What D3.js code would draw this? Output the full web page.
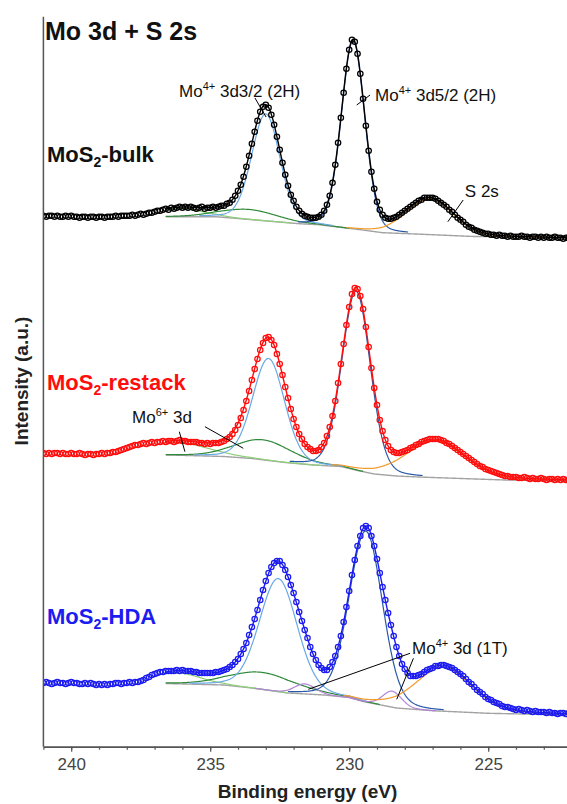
<!DOCTYPE html>
<html>
<head>
<meta charset="utf-8">
<script src="https://cdn.jsdelivr.net/npm/d3@7"></script>
<style>
  html, body { margin: 0; padding: 0; background: #ffffff; }
  svg { display: block; font-family: "Liberation Sans", Arial, Helvetica, sans-serif; }
</style>
</head>
<body>
<svg id="chart" width="567" height="804"></svg>
<script>
// ---- scan settings: binding energy of the first channel and channel step (eV)
const scanStart = 241.0;
const scanStep = 0.1;

// ---- samples, stacked from top to bottom
const sampleNames = ["bulk", "restack", "HDA"];
const sampleColors = ["#000000", "#ff0d0d", "#1c1cf0"];
const stackOffsets = [500, 256.7, 26.7];

// ---- measured intensity (a.u.), one value per channel, 241.0 -> 222.0 eV
const bulkCounts = [
  31,30,31,31,30,31,30,30,31,30,
  31,30,30,29,30,30,29,30,30,29,
  30,30,29,30,30,30,31,30,31,31,
  31,31,32,31,32,33,32,33,34,34,
  35,36,36,37,38,37,39,38,39,40,
  39,40,39,40,39,38,39,40,38,39,
  39,40,39,40,41,41,43,44,47,51,
  56,62,70,80,91,103,115,126,135,140,
  142,139,132,122,110,97,84,72,61,52,
  46,40,36,33,31,30,29,29,29,30,
  32,36,42,51,64,82,104,129,154,178,
  197,207,205,193,173,148,121,96,75,58,
  45,37,32,29,28,28,29,30,32,34,
  36,38,40,42,44,46,47,49,49,49,
  49,48,46,44,42,40,37,35,32,29,
  27,25,22,20,19,17,16,15,14,13,
  13,12,12,11,12,11,11,10,11,10,
  10,10,11,10,10,9,10,10,9,10,
  9,10,9,9,10,9,9,8,9,9,
  9
];
const restackCounts = [
  37,36,37,36,37,37,36,37,36,36,
  37,36,36,37,36,35,36,36,35,36,
  36,37,36,37,37,38,38,39,40,41,
  42,43,44,45,45,46,47,46,47,48,
  47,48,48,49,48,49,49,48,49,50,
  49,49,48,48,48,48,47,47,46,47,
  46,47,47,47,48,49,51,53,56,60,
  65,72,80,89,99,110,121,131,140,147,
  152,153,150,145,136,126,115,103,92,81,
  71,63,56,51,46,43,41,39,39,40,
  43,47,54,63,74,89,107,126,146,165,
  183,196,202,201,194,181,163,143,122,102,
  85,70,59,50,44,40,38,37,37,38,
  39,40,42,43,45,46,48,49,50,51,
  51,51,51,50,49,47,46,44,42,40,
  38,36,34,32,30,28,26,24,23,21,
  20,19,18,17,16,15,14,14,13,13,
  13,12,12,13,12,11,12,11,11,12,
  11,10,11,11,10,11,10,11,10,10,
  10
];
const hdaCounts = [
  37,38,37,36,37,38,37,37,36,37,
  38,37,37,36,36,37,36,37,36,35,
  36,35,36,35,36,36,37,37,36,37,
  37,38,37,38,38,39,40,42,43,45,
  46,47,48,48,49,49,49,49,50,49,
  50,49,49,49,48,48,47,47,47,47,
  47,47,48,48,49,50,51,53,55,58,
  61,66,71,77,85,93,101,110,120,130,
  139,147,153,157,159,159,155,150,143,135,
  127,118,108,99,90,82,73,66,60,55,
  52,50,50,53,58,64,73,84,98,113,
  129,145,160,174,184,192,194,192,184,174,
  161,147,133,120,107,95,84,73,64,56,
  51,47,44,44,44,45,46,48,50,51,
  52,54,54,55,55,54,53,52,50,48,
  46,44,41,38,36,33,30,28,26,23,
  21,20,18,17,16,14,13,13,12,11,
  10,11,10,9,10,9,8,9,8,8,
  8,7,8,7,7,6,7,7,6,7,
  6
];

// ---- fit window (eV)
const fitStart = 236.6;
const fitEnd = 222.0;

// ---- Shirley-type background knots [eV, intensity]
const bulkBackground = [[241,30],[234.8,30],[233.5,27],[231.8,23],[231.1,22],[229.6,17],[228.8,14],[227.6,12.7],[225.6,10.3],[222,8.6]];
const restackBackground = [[236.6,35.1],[234.5,33.5],[233.5,31.5],[232.3,27.5],[231.3,25],[230.3,23.5],[229.7,19.5],[229.1,16],[228.3,14],[227.5,13],[226.5,12],[224.4,10],[222,9.3]];
const hdaBackground = [[236.6,36.5],[234.5,35],[233.5,32],[232.2,27],[230.9,25],[230,22.5],[229.5,18.5],[228.3,12],[227,9.3],[225,6.7],[222,5]];

// ---- fitted components: [name, centre (eV), height, FWHM (eV), Lorentzian fraction]
const bulkPeaks = [
  ["Mo6+ 3d3/2", 236.1, 8, 2.0, 0.15],
  ["Mo6+ 3d5/2", 233.6, 10, 2.4, 0.15],
  ["Mo4+ 3d3/2 (2H)", 233.0, 107, 1.2, 0.15],
  ["Mo4+ 3d5/2 (2H)", 229.86, 188, 0.99, 0.15],
  ["S 2s", 227.1, 36, 2.0, 0.15]
];
const restackPeaks = [
  ["Mo6+ 3d3/2", 236.2, 13, 2.6, 0.15],
  ["Mo6+ 3d5/2", 233.1, 20, 2.4, 0.15],
  ["Mo4+ 3d3/2 (2H)", 232.9, 102, 1.35, 0.15],
  ["Mo4+ 3d5/2 (2H)", 229.75, 179, 1.2, 0.15],
  ["S 2s", 226.9, 37, 2.5, 0.3]
];
const hdaPeaks = [
  ["Mo6+ 3d3/2", 236.2, 11, 2.0, 0.15],
  ["Mo6+ 3d5/2", 233.1, 17, 2.8, 0.15],
  ["Mo4+ 3d3/2 (2H)", 232.55, 113, 1.6, 0.15],
  ["Mo4+ 3d3/2 (1T)", 231.6, 10, 0.9, 0.15],
  ["Mo4+ 3d5/2 (2H)", 229.4, 171, 1.4, 0.15],
  ["Mo4+ 3d5/2 (1T)", 228.45, 16, 0.8, 0.15],
  ["S 2s", 226.6, 44, 2.4, 0.3]
];

// ---- axis ticks
const majorTicks = [240, 235, 230, 225];
const minorTicks = [241,240,239,238,237,236,235,234,233,232,231,230,229,228,227,226,225,224,223,222];

// ---- annotations: leader lines [sample, eV, intensity, eV, intensity]
const leaderLines = [
  [0, 233.39, 148.7, 232.99, 129.7],
  [0, 229.73, 141.7, 229.25, 151.7],
  [0, 226.45, 25.0, 225.90, 46.7],
  [1, 236.11, 58.3, 235.91, 38.3],
  [1, 235.19, 63.3, 233.81, 41.7],
  [2, 227.81, 66.7, 231.47, 30.7],
  [2, 227.69, 61.7, 228.29, 20.7]
];
// label anchors [sample, eV, intensity] and their text runs
const labelAnchors = [
  [0, 236.12, 150.0],
  [0, 229.07, 145.7],
  [0, 225.84, 49.7],
  [1, 237.81, 67.0],
  [2, 227.74, 66.0]
];
const labelTexts = [
  [["Mo"], ["4+", "sup"], [" 3d3/2 (2H)"]],
  [["Mo"], ["4+", "sup"], [" 3d5/2 (2H)"]],
  [["S 2s"]],
  [["Mo"], ["6+", "sup"], [" 3d"]],
  [["Mo"], ["4+", "sup"], [" 3d (1T)"]]
];

// ---------------------------------------------------------------------------
const countsList = [bulkCounts, restackCounts, hdaCounts];
const backgroundList = [bulkBackground, restackBackground, hdaBackground];
const peakList = [bulkPeaks, restackPeaks, hdaPeaks];

const componentColor = {
  "Mo6+ 3d3/2": "#8fcf7a",
  "Mo6+ 3d5/2": "#2f8a3a",
  "Mo4+ 3d3/2 (2H)": "#6aa9e6",
  "Mo4+ 3d5/2 (2H)": "#2a58a8",
  "Mo4+ 3d3/2 (1T)": "#b085d6",
  "Mo4+ 3d5/2 (1T)": "#b085d6",
  "S 2s": "#f59a2c"
};

const W = 567, H = 804;
const x = d3.scaleLinear().domain([241, 222]).range([43.4, 571.6]);
const y = d3.scaleLinear().domain([0, 730]).range([746.7, 16.7]);

const svg = d3.select("#chart");
svg.append("defs").append("clipPath").attr("id", "plotClip")
  .append("rect").attr("x", x(241)).attr("y", 0)
  .attr("width", W - x(241)).attr("height", y(0));

const plot = svg.append("g").attr("clip-path", "url(#plotClip)");

// pseudo-Voigt line shape
function pseudoVoigt(E, p) {
  const u = (E - p[1]) / p[3];
  const g = Math.exp(-4 * Math.LN2 * u * u);
  const l = 1 / (1 + 4 * u * u);
  return p[2] * ((1 - p[4]) * g + p[4] * l);
}

function drawRange(p) {
  const c = p[1], w = p[3];
  if (p[0] === "Mo6+ 3d3/2") return [fitStart, c - 2 * w];
  if (p[0] === "Mo6+ 3d5/2") return [Math.min(fitStart, c + 1.5 * w), c - 1.5 * w];
  if (p[0] === "S 2s") return [c + 1.5 * w, fitEnd];
  return [Math.min(fitStart, c + 2 * w), Math.max(fitEnd, c - 2 * w)];
}

const fine = d3.range(fitStart, fitEnd - 1e-9, -0.02);
const line = d3.line().x(d => x(d[0])).y(d => y(d[1]));

countsList.forEach((counts, s) => {
  const off = stackOffsets[s];
  const bg = backgroundList[s];
  const peaks = peakList[s];
  const bgAt = d3.scaleLinear().domain(bg.map(d => d[0])).range(bg.map(d => d[1])).clamp(true);
  const g = plot.append("g").attr("class", "sample-" + sampleNames[s]);

  // background
  g.append("path")
    .attr("d", line(fine.map(E => [E, bgAt(E) + off])))
    .attr("fill", "none").attr("stroke", "#a3a3a3").attr("stroke-width", 1.4);

  // components
  peaks.forEach(p => {
    const [a, b] = drawRange(p);
    const pts = fine.filter(E => E <= a + 1e-9 && E >= b - 1e-9)
      .map(E => [E, bgAt(E) + pseudoVoigt(E, p) + off]);
    g.append("path")
      .attr("d", line(pts))
      .attr("fill", "none")
      .attr("stroke", componentColor[p[0]])
      .attr("stroke-width", 1.2);
  });

  // envelope
  g.append("path")
    .attr("d", line(fine.map(E => [E, bgAt(E) + d3.sum(peaks, p => pseudoVoigt(E, p)) + off])))
    .attr("fill", "none").attr("stroke", sampleColors[s]).attr("stroke-width", 1.4);

  // measured points
  g.selectAll("circle").data(counts).join("circle")
    .attr("cx", (d, i) => x(+(scanStart - i * scanStep).toFixed(2)))
    .attr("cy", d => y(d + off))
    .attr("r", 2.7)
    .attr("fill", "none")
    .attr("stroke", sampleColors[s])
    .attr("stroke-width", 1.25);
});

// leader lines
plot.append("g").selectAll("line").data(leaderLines).join("line")
  .attr("x1", d => x(d[1])).attr("y1", d => y(d[2] + stackOffsets[d[0]]))
  .attr("x2", d => x(d[3])).attr("y2", d => y(d[4] + stackOffsets[d[0]]))
  .attr("stroke", "#000").attr("stroke-width", 1);

// rich text helper (superscript / subscript runs)
function richText(parent, runs, attrs, small, shift) {
  const t = parent.append("text");
  Object.entries(attrs).forEach(([k, v]) => t.attr(k, v));
  let pending = 0;
  runs.forEach(r => {
    const ts = t.append("tspan").text(r[0]);
    if (r[1] === "sup" || r[1] === "sub") {
      const dy = r[1] === "sup" ? -shift : shift;
      ts.attr("font-size", small).attr("dy", dy + pending);
      pending = -dy;
    } else if (pending) {
      ts.attr("dy", pending);
      pending = 0;
    }
  });
  return t;
}

labelAnchors.forEach((a, i) => {
  richText(svg, labelTexts[i], {
    x: x(a[1]), y: y(a[2] + stackOffsets[a[0]]),
    "font-size": 17, fill: "#111"
  }, 11, 7);
});

// panel title and sample names
svg.append("text").attr("x", 45).attr("y", 40)
  .attr("font-size", 25).attr("font-weight", "bold").attr("fill", "#111")
  .text("Mo 3d + S 2s");

const sampleLabelY = [162, 390, 624];
sampleNames.forEach((n, s) => {
  richText(svg, [["MoS"], ["2", "sub"], ["-" + n]], {
    x: 47, y: sampleLabelY[s], "font-size": 22, "font-weight": "bold",
    fill: s === 0 ? "#111" : sampleColors[s]
  }, 14, 5);
});

// axes
const axisColor = "#555";
svg.append("line")
  .attr("x1", x(241)).attr("x2", x(241))
  .attr("y1", y(730)).attr("y2", y(0))
  .attr("stroke", axisColor).attr("stroke-width", 1.5);

const xAxisMinor = svg.append("g").attr("transform", `translate(0,${y(0)})`)
  .call(d3.axisBottom(x).tickValues(minorTicks).tickSize(3).tickSizeOuter(0).tickFormat(""));
const xAxisMajor = svg.append("g").attr("transform", `translate(0,${y(0)})`)
  .call(d3.axisBottom(x).tickValues(majorTicks).tickSize(5).tickSizeOuter(0).tickPadding(6).tickFormat(d3.format("d")));
[xAxisMinor, xAxisMajor].forEach(a => {
  a.select(".domain").attr("stroke", axisColor).attr("stroke-width", 1.5);
  a.selectAll(".tick line").attr("stroke", axisColor).attr("stroke-width", 1.2);
});
xAxisMajor.selectAll(".tick text")
  .attr("font-size", 17).attr("fill", "#444")
  .attr("font-family", "\"Liberation Sans\", Arial, sans-serif");

svg.append("text")
  .attr("x", (x(241) + x(222)) / 2).attr("y", 798)
  .attr("text-anchor", "middle").attr("font-size", 19).attr("font-weight", "bold").attr("fill", "#222")
  .text("Binding energy (eV)");

svg.append("text")
  .attr("transform", "translate(28,381) rotate(-90)")
  .attr("text-anchor", "middle").attr("font-size", 19).attr("font-weight", "bold").attr("fill", "#222")
  .text("Intensity (a.u.)");
</script>
</body>
</html>
